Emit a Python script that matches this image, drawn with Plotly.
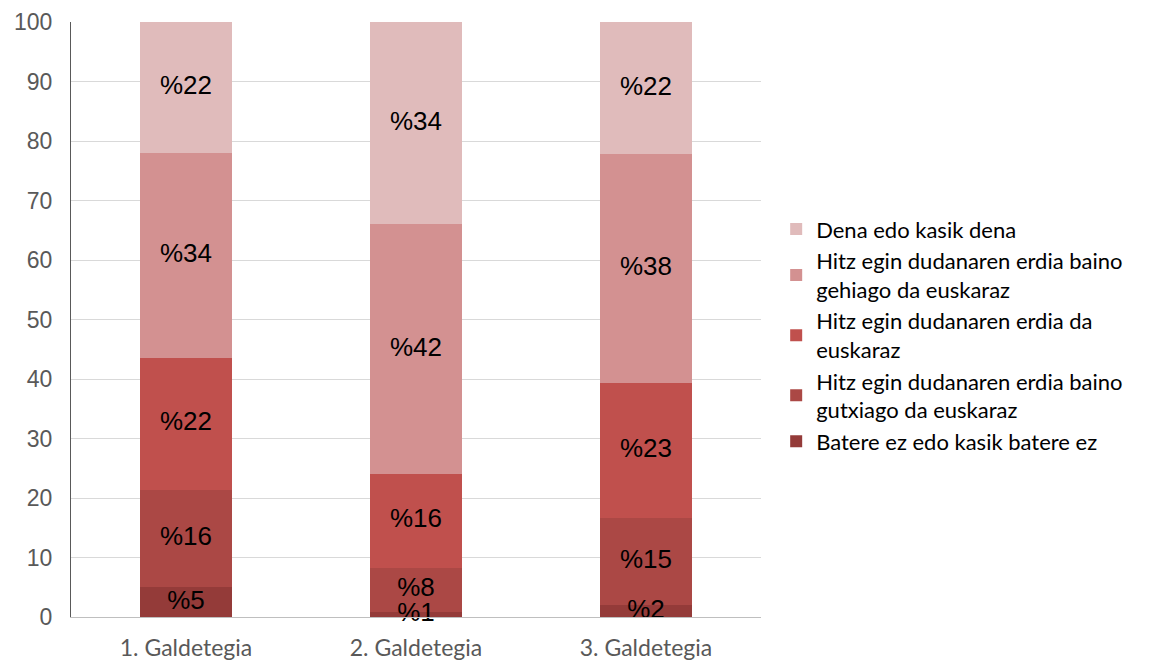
import numpy as np
import plotly.graph_objects as go

categories = ["1. Galdetegia", "2. Galdetegia", "3. Galdetegia"]
series_names = [
    "Batere ez edo kasik batere ez",
    "Hitz egin dudanaren erdia baino<br>gutxiago da euskaraz",
    "Hitz egin dudanaren erdia da<br>euskaraz",
    "Hitz egin dudanaren erdia baino<br>gehiago da euskaraz",
    "Dena edo kasik dena",
]
batere_ez = [5.0, 0.8, 2.0]
gutxiago = [16.4, 7.5, 14.6]
erdia = [22.1, 15.7, 22.8]
gehiago = [34.4, 42.0, 38.4]
dena = [22.1, 34.0, 22.2]
series_values = [batere_ez, gutxiago, erdia, gehiago, dena]
colors = ["#943B39", "#AB4845", "#C0504D", "#D39191", "#E0BBBB"]
y_ticks = [0, 10, 20, 30, 40, 50, 60, 70, 80, 90, 100]

fig = go.Figure()
for name, vals, col in zip(series_names, series_values, colors):
    fig.add_trace(go.Bar(
        x=categories, y=vals, name=name,
        marker=dict(color=col, line=dict(width=0)),
        hoverinfo="skip",
    ))

# value labels centred in each stacked segment (derived from the data)
arr = np.array(series_values)
tops = np.cumsum(arr, axis=0)
mids = tops - arr / 2.0
lab_x, lab_y, lab_t = [], [], []
for s in range(arr.shape[0]):
    for c, cat in enumerate(categories):
        lab_x.append(cat)
        lab_y.append(float(mids[s, c]))
        lab_t.append("%" + str(round(arr[s, c])))
fig.add_trace(go.Scatter(
    x=lab_x, y=lab_y, text=lab_t, mode="text",
    textposition="middle center",
    textfont=dict(family="Liberation Sans Narrow, Liberation Sans, Arial", size=26, color="#000000"),
    cliponaxis=False, showlegend=False, hoverinfo="skip",
))

fig.update_layout(
    barmode="stack",
    bargap=0.6,
    width=1150, height=652,
    margin=dict(l=63, r=397, t=14, b=43, autoexpand=False),
    paper_bgcolor="white", plot_bgcolor="white",
    showlegend=True,
    legend=dict(
        traceorder="reversed",
        x=1.022, y=0.687, xanchor="left", yanchor="top",
        font=dict(family="Lato, Open Sans", size=22, color="#000000"),
        itemwidth=30,
    ),
    xaxis=dict(
        showline=True, linecolor="#BFBFBF", linewidth=1,
        ticks="", ticklabelstandoff=10, automargin=False,
        tickfont=dict(family="Lato, Open Sans", size=23, color="#595959"),
        range=[-0.5, 2.5],
    ),
    yaxis=dict(
        range=[0, 100], tickvals=y_ticks,
        showgrid=True, gridcolor="#D9D9D9", gridwidth=1,
        showline=True, linecolor="#595959", linewidth=1,
        zeroline=False, ticks="", ticklabelstandoff=13, automargin=False,
        tickfont=dict(family="Liberation Sans, Arial", size=23, color="#595959"),
    ),
)

fig.write_html("out.html")
